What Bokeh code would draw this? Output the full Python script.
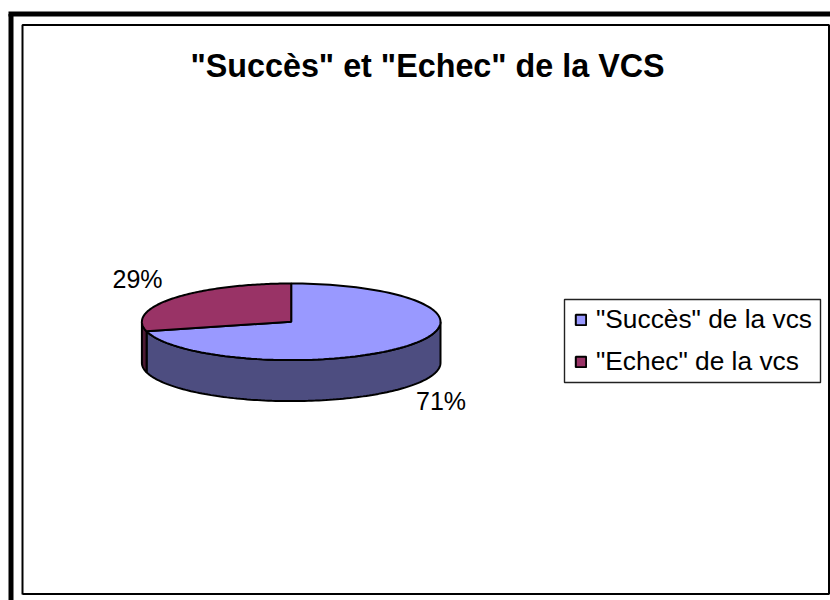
import numpy as np
from bokeh.plotting import figure
from bokeh.models import Legend, LegendItem, Range1d
from bokeh.core.properties import value
from bokeh.embed import file_html
from bokeh.resources import INLINE

title_text = '"Succès" et "Echec" de la VCS'
categories = ['"Succès" de la vcs', '"Echec" de la vcs']
shares = [71, 29]
percent_labels = ["71%", "29%"]
top_colors = ["#9999FF", "#993366"]
side_colors = ["#4D4D80", "#4D1A33"]

CX, CY, RX, RY, DEPTH = 290.7, 321.3, 149.3, 38.3, 41
FONT = value("Liberation Sans")

p = figure(width=830, height=600, x_range=Range1d(0, 830), y_range=Range1d(600, 0),
           output_backend="svg", toolbar_location=None, min_border=0)
p.axis.visible = False
p.grid.visible = False
p.outline_line_color = None
p.background_fill_color = "white"


def arc(a0, a1, n=120):
    t = np.radians(np.linspace(a0, a1, n))
    return CX + RX * np.cos(t), CY - RY * np.sin(t)


# chart frames
p.line([10.5, 10.5], [600, 13.5], line_color="black", line_width=5)
p.line([8, 830], [13.5, 13.5], line_color="black", line_width=5)
p.line([22, 22, 828.5, 828.5, 22], [594, 24.5, 24.5, 593.5, 593.5], line_color="black", line_width=2)

# legend frame
p.quad(left=[564], right=[820], top=[299], bottom=[382], fill_color="white",
       line_color="#222222", line_width=1.4)

# slices run clockwise from 12 o'clock
fractions = np.array(shares) / sum(shares)
starts = 90 - 360 * np.concatenate([[0], np.cumsum(fractions)[:-1]])
ends = starts - 360 * fractions
tops = []
for s, e, top, side in zip(starts, ends, top_colors, side_colors):
    # visible wall: the part of the slice on the lower half of the ellipse
    w0, w1 = max(e, -180), min(s, 0)
    if w1 > w0:
        x, y = arc(w0, w1)
        p.patch(np.r_[x, x[::-1]], np.r_[y, y[::-1] + DEPTH], fill_color=side,
                line_color="black", line_width=2)
    x, y = arc(s, e)
    r = p.patch(np.r_[CX, x], np.r_[CY, y], fill_color=top, line_color="black", line_width=2)
    tops.append(r)

# percentage labels
p.text([440.5, 137], [400.5, 278], text=percent_labels, text_font=FONT, text_font_size="25px",
       text_color="black", text_align="center", text_baseline="middle")

p.text([427], [65], text=[title_text], text_font=FONT, text_font_size="32.3px",
       text_font_style="bold", text_color="black", text_align="center", text_baseline="middle")

legend = Legend(items=[LegendItem(label=c, renderers=[r]) for c, r in zip(categories, tops)],
                location=(574, 223.5), orientation="vertical",
                label_text_font="Liberation Sans", label_text_font_size="26.3px",
                label_text_color="black", glyph_width=13, glyph_height=13, spacing=11,
                padding=9, margin=0, label_standoff=9, border_line_color=None,
                background_fill_alpha=0)
p.add_layout(legend, "center")

open("out.html", "w").write(file_html(p, INLINE))
